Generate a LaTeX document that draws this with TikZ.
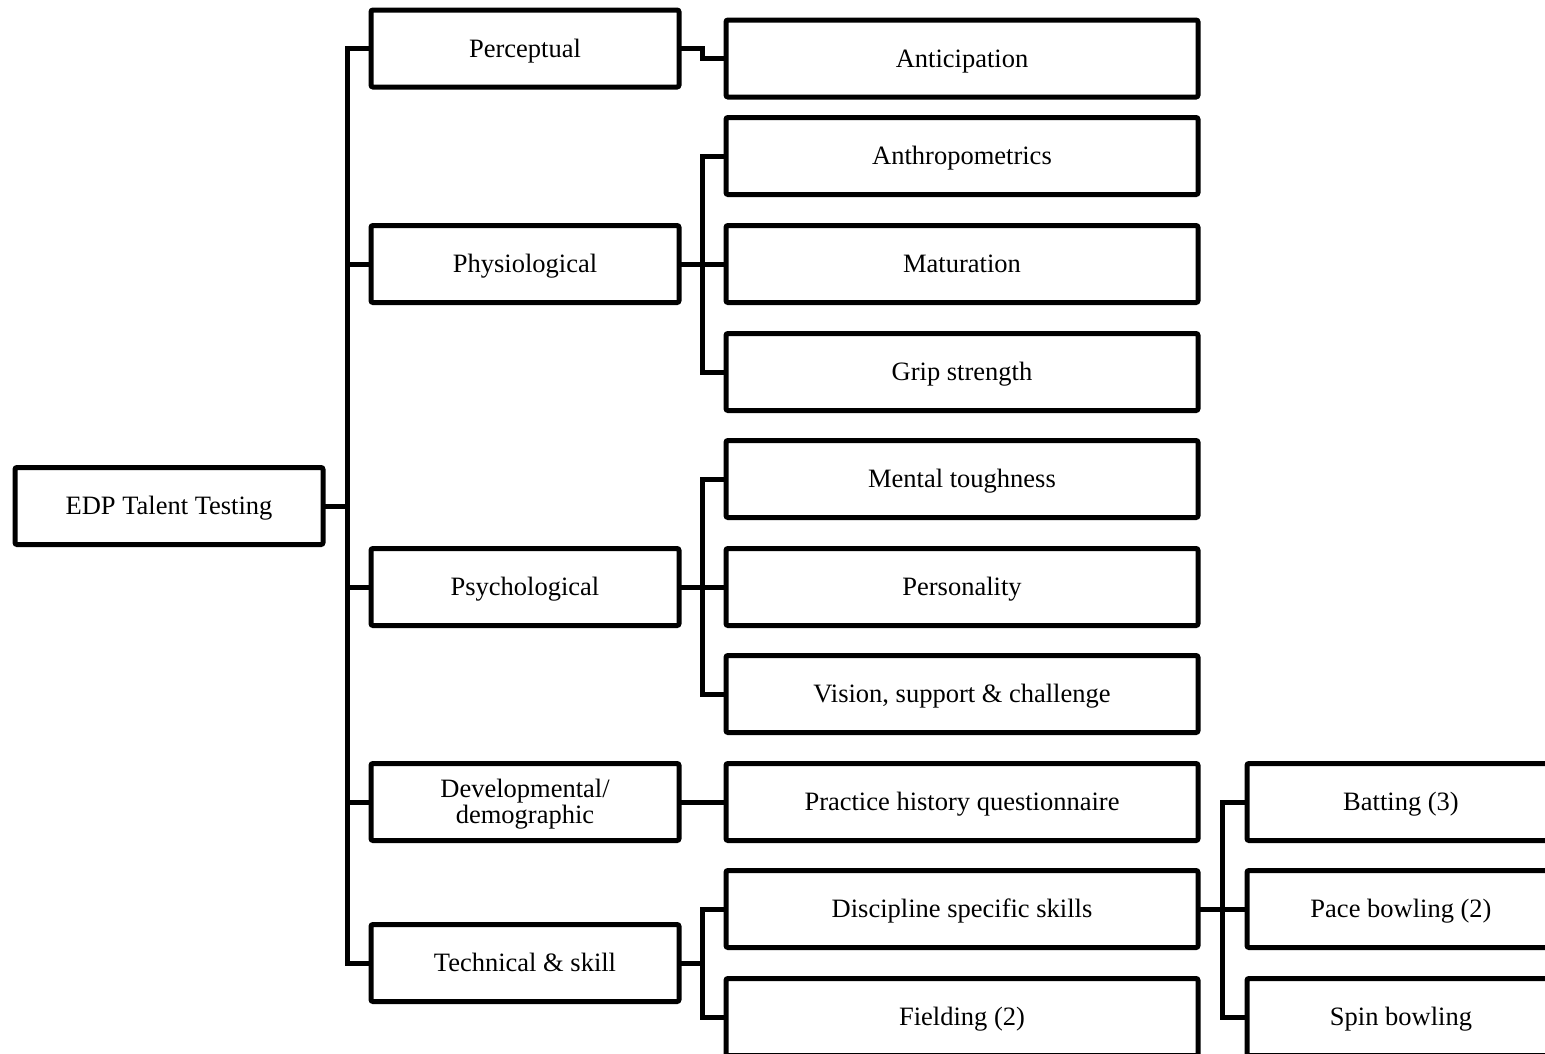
\documentclass[tikz,border=0pt]{standalone}
\usepackage{fontspec}
\setmainfont{Liberation Serif}
\begin{document}
\begin{tikzpicture}[x=1pt,y=-1pt,
  box/.style={draw, line width=5pt, rounded corners=2pt, inner sep=0pt, outer sep=0pt,
    minimum height=77pt, align=center, font=\fontsize{26.5}{26}\selectfont},
  oneline/.style={text height=23pt, text depth=6pt},
  lone/.style={box, oneline, minimum width=308pt},
  ltwo/.style={box, oneline, minimum width=472pt},
  link/.style={line width=5pt, line join=miter}]
\useasboundingbox (0,0) rectangle (1545,1053);
\clip (0,0) rectangle (1545,1053);
\fill[white] (0,0) rectangle (1545,1053);

\coordinate (busA) at (347,0);
\coordinate (busB) at (702,0);
\coordinate (busC) at (1222,0);

\node[lone] (root) at (169,506) {EDP Talent Testing};

\node[lone] (perc) at (525,48.5) {Perceptual};
\node[lone] (phys) at (525,264) {Physiological};
\node[lone] (psych) at (525,587) {Psychological};
\node[box, minimum width=308pt, text height=49pt, text depth=6pt] (dev) at (525,802) {Developmental/\\demographic};
\node[lone] (tech) at (525,963) {Technical \& skill};

\node[ltwo] (antic) at (962,58.5) {Anticipation};
\node[ltwo] (anthro) at (962,156) {Anthropometrics};
\node[ltwo] (mat) at (962,264) {Maturation};
\node[ltwo] (grip) at (962,372) {Grip strength};
\node[ltwo] (ment) at (962,479) {Mental toughness};
\node[ltwo] (pers) at (962,587) {Personality};
\node[ltwo] (vis) at (962,694) {Vision, support \& challenge};
\node[ltwo] (prac) at (962,802) {Practice history questionnaire};
\node[ltwo] (disc) at (962,909) {Discipline specific skills};
\node[ltwo] (field) at (962,1017) {Fielding (2)};

\node[lone] (bat) at (1401,802) {Batting (3)};
\node[lone] (pace) at (1401,909) {Pace bowling (2)};
\node[lone] (spin) at (1401,1017) {Spin bowling};

% root trunk
\draw[link] (root.east) -- (root.east -| busA);
\draw[link] (perc.west) -- (perc.west -| busA) -- (tech.west -| busA) -- (tech.west);
\draw[link] (phys.west) -- (phys.west -| busA);
\draw[link] (psych.west) -- (psych.west -| busA);
\draw[link] (dev.west) -- (dev.west -| busA);

% perceptual
\draw[link] (perc.east) -- (perc.east -| busB) -- (antic.west -| busB) -- (antic.west);

% physiological
\draw[link] (phys.east) -- (phys.east -| busB);
\draw[link] (anthro.west) -- (anthro.west -| busB) -- (grip.west -| busB) -- (grip.west);
\draw[link] (mat.west) -- (mat.west -| busB);

% psychological
\draw[link] (psych.east) -- (psych.east -| busB);
\draw[link] (ment.west) -- (ment.west -| busB) -- (vis.west -| busB) -- (vis.west);
\draw[link] (pers.west) -- (pers.west -| busB);

% developmental
\draw[link] (dev.east) -- (prac.west);

% technical
\draw[link] (tech.east) -- (tech.east -| busB);
\draw[link] (disc.west) -- (disc.west -| busB) -- (field.west -| busB) -- (field.west);

% discipline
\draw[link] (disc.east) -- (disc.east -| busC);
\draw[link] (bat.west) -- (bat.west -| busC) -- (spin.west -| busC) -- (spin.west);
\draw[link] (pace.west) -- (pace.west -| busC);
\end{tikzpicture}
\end{document}
